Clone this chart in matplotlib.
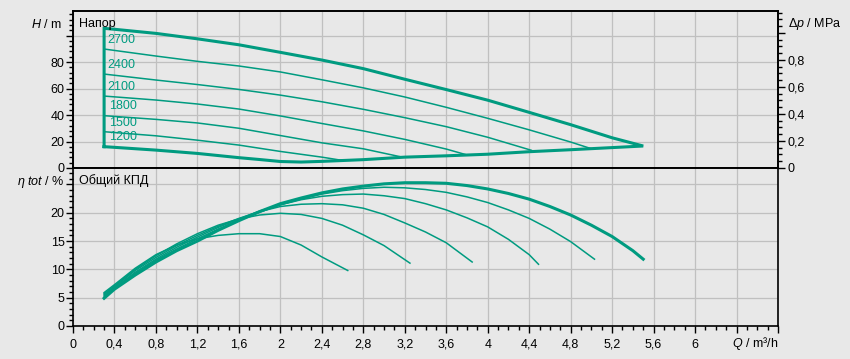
import numpy as np
import matplotlib
matplotlib.use("Agg")
import matplotlib.pyplot as plt
from matplotlib.ticker import MultipleLocator, FuncFormatter

plt.rcParams['font.family'] = ['Liberation Sans', 'DejaVu Sans']
plt.rcParams['mathtext.fontset'] = 'custom'
plt.rcParams['mathtext.it'] = 'Liberation Sans:italic'
plt.rcParams['mathtext.rm'] = 'Liberation Sans'

# --- Напор: огибающая (макс. кривая и линия конца кривых) ---
q_top = [0.3, 0.4, 0.8, 1.2, 1.6, 2.0, 2.4, 2.8, 3.2, 3.6, 4.0, 4.4, 4.8, 5.2, 5.5]
h_top = [105.4, 104.7, 101.6, 97.5, 93.0, 87.3, 81.5, 75.0, 67.0, 59.2, 51.2, 42.0, 32.7, 22.8, 16.6]
q_bot = [0.3, 0.4, 0.8, 1.2, 1.6, 1.8, 2.0, 2.2, 2.4, 2.8, 3.2, 3.6, 4.0, 4.4, 4.8, 5.2, 5.5]
h_bot = [16.1, 15.6, 13.5, 11.0, 7.8, 6.4, 4.9, 4.5, 5.0, 6.3, 8.2, 9.2, 10.4, 12.3, 13.8, 15.4, 16.6]

# --- Напор: тонкие кривые по оборотам ---
speeds = ['2700', '2400', '2100', '1800', '1500']
q_h = {
    '2700': [0.3, 0.8, 1.2, 1.6, 2.0, 2.4, 2.8, 3.2, 3.6, 4.0, 4.4, 4.8, 4.99],
    '2400': [0.3, 0.8, 1.2, 1.6, 2.0, 2.4, 2.8, 3.2, 3.6, 4.0, 4.42],
    '2100': [0.3, 0.8, 1.2, 1.6, 2.0, 2.4, 2.8, 3.2, 3.6, 3.78],
    '1800': [0.3, 0.8, 1.2, 1.6, 2.0, 2.4, 2.8, 3.17],
    '1500': [0.3, 0.8, 1.2, 1.6, 2.0, 2.4, 2.6],
}
h_h = {
    '2700': [89.8, 84.5, 80.5, 77.0, 72.5, 66.6, 60.5, 53.6, 45.8, 37.5, 28.8, 19.6, 14.8],
    '2400': [70.9, 66.4, 63.0, 59.3, 55.0, 50.0, 44.3, 38.0, 31.2, 23.2, 13.4],
    '2100': [54.3, 51.3, 48.3, 44.5, 39.3, 33.6, 28.0, 21.6, 14.3, 10.3],
    '1800': [39.5, 36.7, 34.0, 30.0, 24.5, 19.0, 14.5, 8.3],
    '1500': [27.4, 24.3, 21.0, 17.3, 12.5, 8.2, 5.7],
}
label_speeds = ['2700', '2400', '2100', '1800', '1500', '1200']
label_h = [96.5, 77.7, 61.0, 46.8, 34.0, 23.4]
label_q = [0.33, 0.33, 0.33, 0.35, 0.35, 0.35]

# --- Общий КПД ---
q_eta_max = [0.3, 0.4, 0.6, 0.8, 1.0, 1.2, 1.4, 1.6, 1.8, 2.0, 2.2, 2.4, 2.6, 2.8, 3.0,
             3.2, 3.4, 3.6, 3.8, 4.0, 4.2, 4.4, 4.6, 4.8, 5.0, 5.2, 5.4, 5.5]
eta_max = [4.9, 6.5, 9.0, 11.3, 13.3, 15.0, 16.9, 18.6, 20.2, 21.6, 22.6, 23.5, 24.2, 24.7, 25.1,
           25.3, 25.3, 25.2, 24.8, 24.2, 23.4, 22.4, 21.1, 19.6, 17.8, 15.8, 13.3, 11.8]
q_eta = {
    '2700': [0.3, 0.4, 0.6, 0.8, 1.0, 1.2, 1.4, 1.6, 1.8, 2.0, 2.2, 2.4, 2.6, 2.8, 3.0, 3.2,
             3.4, 3.6, 3.8, 4.0, 4.2, 4.4, 4.6, 4.8, 5.03],
    '2400': [0.3, 0.4, 0.6, 0.8, 1.0, 1.2, 1.4, 1.6, 1.8, 2.0, 2.2, 2.4, 2.6, 2.8, 3.0, 3.2,
             3.4, 3.6, 3.8, 4.0, 4.2, 4.4, 4.49],
    '2100': [0.3, 0.4, 0.6, 0.8, 1.0, 1.2, 1.4, 1.6, 1.8, 2.0, 2.2, 2.4, 2.6, 2.8, 3.0, 3.2,
             3.4, 3.6, 3.85],
    '1800': [0.3, 0.4, 0.6, 0.8, 1.0, 1.2, 1.4, 1.6, 1.8, 2.0, 2.2, 2.4, 2.6, 2.8, 3.0, 3.25],
    '1500': [0.3, 0.4, 0.6, 0.8, 1.0, 1.2, 1.4, 1.6, 1.8, 2.0, 2.2, 2.4, 2.65],
}
eta = {
    '2700': [5.1, 6.5, 9.3, 11.6, 13.6, 15.4, 17.1, 18.7, 20.1, 21.4, 22.4, 23.3, 23.9, 24.3, 24.5,
             24.4, 24.1, 23.6, 22.8, 21.8, 20.5, 19.0, 17.1, 14.9, 11.8],
    '2400': [5.3, 6.7, 9.5, 11.8, 13.9, 15.7, 17.4, 18.9, 20.3, 21.4, 22.3, 22.9, 23.2, 23.3, 23.0,
             22.5, 21.6, 20.5, 19.1, 17.5, 15.3, 12.6, 10.9],
    '2100': [5.5, 6.9, 9.8, 12.1, 14.2, 16.0, 17.6, 19.0, 20.2, 21.1, 21.5, 21.6, 21.4, 20.8, 19.7,
             18.2, 16.6, 14.7, 11.3],
    '1800': [5.7, 7.1, 10.0, 12.4, 14.5, 16.3, 17.8, 18.9, 19.6, 19.9, 19.7, 19.0, 17.8, 16.1, 14.2,
             11.1],
    '1500': [5.9, 7.3, 10.2, 12.6, 14.3, 15.4, 16.0, 16.3, 16.3, 15.8, 14.3, 12.2, 9.8],
}

teal = '#009b80'
bg = '#e8e8e8'
grid_c = '#c0c0c0'
W, H = 850, 359

fig = plt.figure(figsize=(W / 100, H / 100), dpi=100, facecolor=bg)
ax1 = fig.add_axes([73 / W, 1 - 168 / H, 705 / W, 157 / H], facecolor=bg)
ax2 = fig.add_axes([73 / W, 1 - 326 / H, 705 / W, 158 / H], facecolor=bg, sharex=ax1)

comma = FuncFormatter(lambda v, p: ('%g' % round(v, 2)).replace('.', ','))

for ax in (ax1, ax2):
    ax.set_xlim(0, 6.8)
    ax.xaxis.set_major_locator(MultipleLocator(0.4))
    ax.xaxis.set_minor_locator(MultipleLocator(0.1))
    ax.grid(True, which='major', color=grid_c, lw=0.9)
    ax.set_axisbelow(True)
    for s in ax.spines.values():
        s.set_color('black'); s.set_linewidth(1.2)
    ax.tick_params(which='major', direction='out', length=5, width=1, labelsize=9, pad=1)
    ax.tick_params(which='minor', direction='out', length=3, width=1)

# верхний график
ax1.set_ylim(0, 118.5)
ax1.yaxis.set_major_locator(MultipleLocator(20))
ax1.yaxis.set_minor_locator(MultipleLocator(4))
ax1.yaxis.set_major_formatter(FuncFormatter(lambda v, p: '' if v > 90 else '%d' % v))
ax1.tick_params(axis='x', which='both', bottom=False, labelbottom=False)

env_q = [q_bot[0]] + q_top + q_bot[::-1]
env_h = [h_bot[0]] + h_top + h_bot[::-1]
ax1.plot(env_q, env_h, color=teal, lw=2.2, solid_joinstyle='miter')
for s in speeds:
    ax1.plot(q_h[s], h_h[s], color=teal, lw=1.1)
for s, q, h in zip(label_speeds, label_q, label_h):
    ax1.text(q, h, s, color=teal, fontsize=9, ha='left', va='center')

axr = ax1.twinx()
axr.set_ylim(0, 118.5 / 101.9)
axr.yaxis.set_major_locator(MultipleLocator(0.2))
axr.yaxis.set_minor_locator(MultipleLocator(0.05))
axr.yaxis.set_major_formatter(FuncFormatter(lambda v, p: '' if v > 0.9 else comma(v, p)))
axr.tick_params(which='major', direction='out', length=5, width=1, labelsize=9, pad=2)
axr.tick_params(which='minor', direction='out', length=3, width=1)
for s in axr.spines.values():
    s.set_linewidth(1.2)

# нижний график
ax2.set_ylim(0, 27.9)
ax2.yaxis.set_major_locator(MultipleLocator(5))
ax2.yaxis.set_minor_locator(MultipleLocator(1))
ax2.yaxis.set_major_formatter(FuncFormatter(lambda v, p: '' if v > 22 else '%d' % v))
ax2.xaxis.set_major_formatter(FuncFormatter(lambda v, p: '' if v > 6.2 else comma(v, p)))
ax2.tick_params(axis='x', pad=4)
for s in speeds:
    ax2.plot(q_eta[s], eta[s], color=teal, lw=1.1)
ax2.plot(q_eta_max, eta_max, color=teal, lw=2.2)

# подписи
def ftext(x, y, s, **kw):
    fig.text(x / W, 1 - y / H, s, fontsize=9, va='center', **kw)

ftext(62, 24, r'$H$ / m', ha='right')
ftext(788, 24, r'$Δp$ / MPa', ha='left')
ftext(64, 182, r'$η\ tot$ / %', ha='right')
ftext(79, 24, 'Напор', ha='left')
ftext(79, 181, 'Общий КПД', ha='left')
ftext(778, 343, r'$Q$ / m³/h', ha='right')

fig.savefig('out.png', dpi=100, facecolor=bg)
